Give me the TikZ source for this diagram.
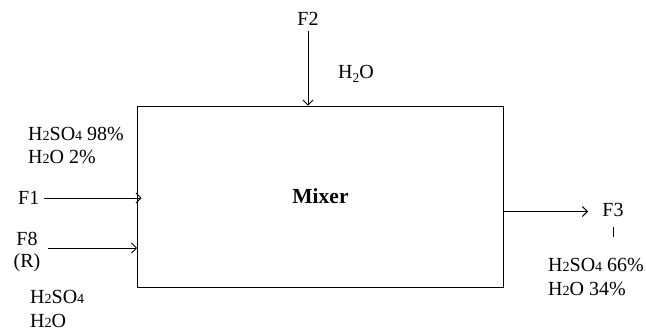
\documentclass[tikz,border=0pt]{standalone}
\usepackage{fontspec}
\setmainfont{Liberation Serif}
\usetikzlibrary{arrows.meta}
\newcommand{\sm}[1]{{\fontsize{14}{14}\selectfont #1}}
\newcommand{\sub}[1]{\raisebox{-3.5pt}{\fontsize{13.5}{13.5}\selectfont #1}}
\begin{document}
\begin{tikzpicture}[x=1pt,y=-1pt,
  every node/.style={inner sep=0pt, font=\fontsize{20}{23}\selectfont},
  lbl/.style={anchor=base west},
  flow/.style={draw=black, line width=0.9pt, -{Straight Barb[length=5pt,width=10pt]}},
  unit/.style={draw=black, line width=0.9pt, minimum width=366pt, minimum height=181pt, font=\fontsize{21.5}{24}\selectfont\bfseries}]
\useasboundingbox (0,0) rectangle (646,334);
\node[unit] (mixer) at (320.5,196.5) {Mixer};
% top stream
\node (f2) at (308,18.5) {F2};
\coordinate (f2s) at (308,31);
\draw[flow] (f2s) -- (f2s |- mixer.north);
\node[lbl] (h2otop) at (338,79) {H\sub{2}O};
% left streams
\node[lbl] (l1) at (28,140.5) {H\sm{2}SO\sm{4} 98\%};
\node[lbl] (l2) at (28,163.5) {H\sm{2}O 2\%};
\node[anchor=east] (f1) at (39.5,198) {F1};
\draw[flow] ([xshift=4.5pt]f1.east) -- ([xshift=4.5pt]f1.east -| mixer.west);
\node (f8) at (27,238.5) {F8};
\node (r) at (27,263) {(R)};
\coordinate (f8s) at (48,248);
\draw[flow] (f8s) -- (f8s -| mixer.west);
\node[lbl] (l3) at (30,303.5) {H\sm{2}SO\sm{4}};
\node[lbl] (l4) at (30,327) {H\sm{2}O};
% right stream
\node (f3) at (613,210) {F3};
\coordinate (f3o) at (503.5,211.5);
\draw[flow] (f3o) -- (588,211.5);
\coordinate (tk) at (613,227.5);
\draw[line width=0.9pt] (tk) -- ++(0,10);
\node[lbl] (r1) at (548,272) {H\sm{2}SO\sm{4} 66\%};
\node[lbl] (r2) at (548,295.5) {H\sm{2}O 34\%};
\end{tikzpicture}
\end{document}
